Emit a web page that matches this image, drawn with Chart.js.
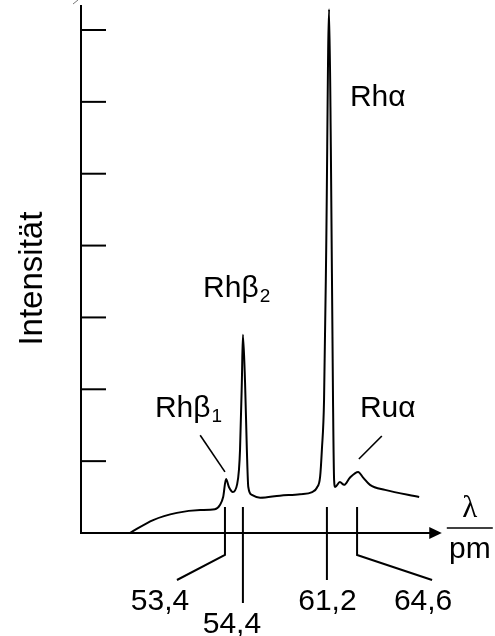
<!DOCTYPE html>
<html>
<head>
<meta charset="utf-8">
<script src="https://cdn.jsdelivr.net/npm/chart.js@4/dist/chart.umd.min.js"></script>
<style>
    body { margin: 0; background: #fff; }
    canvas { display: block; }
</style>
</head>
<body>
<canvas id="spectrum" width="495" height="636"></canvas>
<script>
// schematic wavelength position (0..100 along the drawn axis) and intensity
const lambdaPos = [13.6, 20.1, 26.7, 33.2, 37.3, 38.7, 39.6, 40.4, 41.2, 42.3, 43.5, 44.0, 44.3, 44.8, 45.1,
    45.7, 46.2, 46.6, 47.6, 49.9, 55.4, 61.0, 64.4, 65.7, 66.6, 67.1, 67.7, 68.3, 69.1, 69.6,
    70.2, 70.5, 70.8, 72.1, 73.3, 74.9, 77.2, 78.6, 80.5, 84.7, 94.2];
const intensity = [0, 0.18, 0.28, 0.32, 0.33, 0.39, 0.50, 0.75, 0.64, 0.57, 0.68, 0.88, 1.16, 2.09, 2.76,
    2.09, 1.16, 0.64, 0.53, 0.49, 0.52, 0.54, 0.57, 0.63, 0.78, 1.16, 1.85, 3.94, 7.29, 5.33,
    1.85, 0.74, 0.64, 0.71, 0.67, 0.77, 0.85, 0.77, 0.67, 0.60, 0.50];

const yTicks = [1, 2, 3, 4, 5, 6, 7];
const xTickPos = [40.1, 45.1, 68.5, 76.9];
const xTickLabels = ['53,4', '54,4', '61,2', '64,6'];

const peakNames = ['Rhβ', 'Rhβ', 'Rhα', 'Ruα'];
const peakSubs = ['1', '2', '', ''];

const FONT = "'Liberation Sans', Arial, sans-serif";

// everything that is not the curve: axes, arrows, ticks, labels
const annotations = {
    id: 'annotations',
    afterDatasetsDraw(chart) {
        const ctx = chart.ctx;
        const x = chart.scales.x;
        const y = chart.scales.y;
        const x0 = x.getPixelForValue(0);
        const y0 = y.getPixelForValue(0);

        ctx.save();
        ctx.strokeStyle = '#000';
        ctx.fillStyle = '#000';
        ctx.lineWidth = 2;
        ctx.lineCap = 'butt';

        const line = (pts) => {
            ctx.beginPath();
            ctx.moveTo(pts[0][0], pts[0][1]);
            for (let i = 1; i < pts.length; i++) ctx.lineTo(pts[i][0], pts[i][1]);
            ctx.stroke();
        };

        // axes
        line([[x0, chart.chartArea.top], [x0, y0 + 1]]);
        line([[x0 - 1, y0], [x.getPixelForValue(97.5), y0]]);
        ctx.beginPath();
        ctx.moveTo(x.getPixelForValue(97), y0 - 6);
        ctx.lineTo(x.getPixelForValue(100.5), y0);
        ctx.lineTo(x.getPixelForValue(97), y0 + 6);
        ctx.closePath();
        ctx.fill();

        // cut-off stroke at the very top left
        ctx.lineWidth = 1;
        ctx.strokeStyle = '#777';
        line([[x0 - 8, 4], [x0 - 3, 0]]);
        ctx.strokeStyle = '#000';
        ctx.lineWidth = 2;

        // y ticks point inwards
        yTicks.forEach(v => {
            const py = y.getPixelForValue(v);
            line([[x0, py], [x0 + 25, py]]);
        });

        // x ticks with leaders down to the labels
        const leaders = [
            { drop: 22, bend: [-48, 47], text: [-65, 77] },
            { drop: 70, bend: null, text: [-11, 100] },
            { drop: 47, bend: null, text: [0.5, 77] },
            { drop: 22, bend: [75, 47], text: [66, 77] }
        ];
        ctx.font = '30px ' + FONT;
        ctx.textAlign = 'center';
        ctx.textBaseline = 'alphabetic';
        xTickPos.forEach((v, i) => {
            const px = x.getPixelForValue(v);
            const l = leaders[i];
            const pts = [[px, y0 - 26], [px, y0 + l.drop]];
            if (l.bend) pts.push([px + l.bend[0], y0 + l.bend[1]]);
            line(pts);
            ctx.fillText(xTickLabels[i], px + l.text[0], y0 + l.text[1]);
        });

        // peak labels (anchor = left end of baseline, data units)
        const labelAt = [[20.6, 1.61], [34.0, 3.28], [74.9, 5.94], [77.7, 1.61]];
        ctx.textAlign = 'left';
        peakNames.forEach((name, i) => {
            const px = x.getPixelForValue(labelAt[i][0]);
            const py = y.getPixelForValue(labelAt[i][1]);
            ctx.font = '30px ' + FONT;
            ctx.fillText(name, px, py);
            if (peakSubs[i]) {
                const w = ctx.measureText(name).width;
                ctx.font = '19px ' + FONT;
                ctx.fillText(peakSubs[i], px + w + 1, py + 5);
            }
        });

        // leader lines for the small peaks
        ctx.lineWidth = 1.6;
        line([[x.getPixelForValue(33.2), y.getPixelForValue(1.36)], [x.getPixelForValue(40.1), y.getPixelForValue(0.85)]]);
        line([[x.getPixelForValue(83.8), y.getPixelForValue(1.35)], [x.getPixelForValue(77.4), y.getPixelForValue(1.03)]]);

        // axis unit  λ / pm
        const ux = x.getPixelForValue(108.3);
        ctx.textAlign = 'center';
        ctx.font = "31px 'Liberation Serif', 'Times New Roman', serif";
        ctx.fillText('λ', ux, y0 - 16);
        line([[ux - 23, y0 - 5], [ux + 23, y0 - 5]]);
        ctx.font = '30px ' + FONT;
        ctx.fillText('pm', ux, y0 + 25);

        // y title
        ctx.translate(42, y.getPixelForValue(3.54));
        ctx.rotate(-Math.PI / 2);
        ctx.font = '33px ' + FONT;
        ctx.fillText('Intensität', 0, 0);
        ctx.restore();
    }
};

document.addEventListener('DOMContentLoaded', function() {
    const ctx = document.getElementById('spectrum').getContext('2d');
    new Chart(ctx, {
        type: 'line',
        data: {
            datasets: [{
                data: lambdaPos.map((v, i) => ({ x: v, y: intensity[i] })),
                borderColor: '#000',
                borderWidth: 2,
                pointRadius: 0,
                cubicInterpolationMode: 'monotone',
                fill: false,
                clip: false
            }]
        },
        options: {
            responsive: false,
            animation: false,
            layout: { padding: { left: 81, right: 55, top: 5, bottom: 103 } },
            scales: {
                x: { type: 'linear', min: 0, max: 100, display: false },
                y: { min: 0, max: 7.348, display: false }
            },
            plugins: {
                legend: { display: false },
                tooltip: { enabled: false }
            }
        },
        plugins: [annotations]
    });
});
</script>
</body>
</html>
